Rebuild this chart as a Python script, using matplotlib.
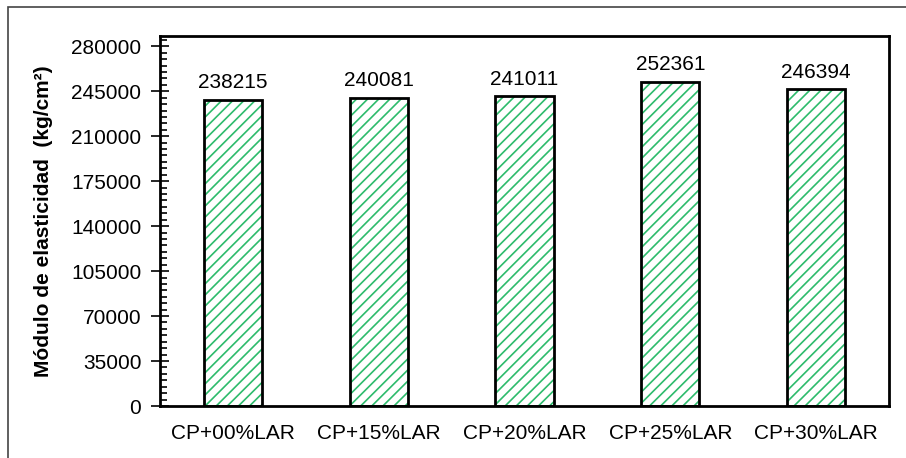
import matplotlib.pyplot as plt
from matplotlib.patches import Rectangle
from matplotlib.ticker import MultipleLocator

plt.rcParams['font.family'] = ['Liberation Sans', 'DejaVu Sans']
plt.rcParams['hatch.linewidth'] = 1.2

categorias = ['CP+00%LAR', 'CP+15%LAR', 'CP+20%LAR', 'CP+25%LAR', 'CP+30%LAR']
modulo = [238215, 240081, 241011, 252361, 246394]
yticks = [0, 35000, 70000, 105000, 140000, 175000, 210000, 245000, 280000]

fig = plt.figure(figsize=(9.06, 4.58), dpi=100)
ax = fig.add_axes([160 / 906, 1 - 406 / 458, 729 / 906, 370 / 458])

# borde exterior del grafico
fig.patches.append(Rectangle((8 / 906, -0.1), 1.2, 1 - 7 / 458 + 0.1,
                             transform=fig.transFigure, fill=False,
                             edgecolor='#444444', linewidth=1.2))

x = range(len(categorias))
ax.bar(x, modulo, width=0.4, color='white', edgecolor='#2dbb6c',
       hatch='///', linewidth=0)
ax.bar(x, modulo, width=0.4, color='none', edgecolor='black', linewidth=2)

for i, v in enumerate(modulo):
    ax.annotate(str(v), (i, v), xytext=(0, 5.5), textcoords='offset points',
                ha='center', va='bottom', fontsize=15)

ax.set_xlim(-0.5, len(categorias) - 0.5)
ax.set_ylim(0, 288000)
ax.set_yticks(yticks)
ax.set_yticklabels([str(t) for t in yticks])
ax.yaxis.set_minor_locator(MultipleLocator(5000))
ax.set_xticks(list(x))
ax.set_xticklabels(categorias)
ax.tick_params(axis='x', length=0, labelsize=15, pad=13)
ax.tick_params(axis='y', which='major', direction='inout', length=13,
               width=1.2, labelsize=15, pad=7)
ax.tick_params(axis='y', which='minor', direction='in', length=5, width=1.2)

for s in ax.spines.values():
    s.set_linewidth(2)

ax.set_ylabel('Módulo de elasticidad  (kg/cm²)', fontsize=15,
              fontweight='bold', labelpad=13)

fig.savefig('out.png', dpi=100)
